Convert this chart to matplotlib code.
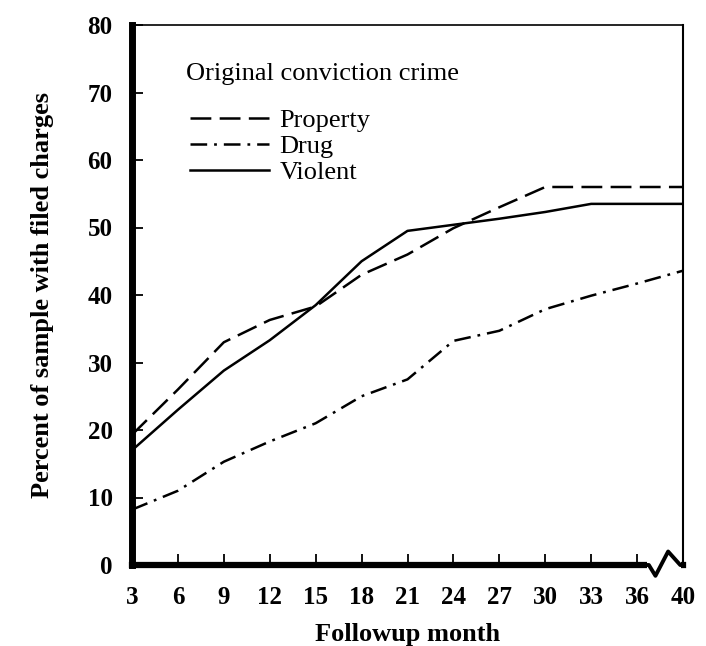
import numpy as np
import matplotlib
matplotlib.use("Agg")
import matplotlib.pyplot as plt

plt.rcParams['font.family'] = ['Liberation Serif', 'DejaVu Serif']
plt.rcParams['lines.scale_dashes'] = False

# followup months (40 sits after an axis break, one step past 36)
months = [3, 6, 9, 12, 15, 18, 21, 24, 27, 30, 33, 36, 40]
property_pct = [19.3, 26.0, 33.0, 36.3, 38.3, 43.0, 46.0, 49.9, 53.0, 56.0, 56.0, 56.0, 56.0]
drug_pct = [8.2, 11.0, 15.3, 18.3, 21.0, 25.0, 27.5, 33.2, 34.7, 37.9, 39.9, 41.7, 43.6]
violent_pct = [17.0, 23.0, 28.8, 33.3, 38.5, 45.0, 49.5, 50.4, 51.3, 52.3, 53.5, 53.5, 53.5]
yticks = [0, 10, 20, 30, 40, 50, 60, 70, 80]

pos = np.arange(len(months))

fig = plt.figure(figsize=(7.06, 6.46), dpi=100)
ax = fig.add_axes([132/706, 81/646, 551/706, 540/646])

ax.plot(pos, property_pct, color='black', lw=1.8, dashes=(15, 6), label='Property')
ax.plot(pos, drug_pct, color='black', lw=1.8, dashes=(12, 5, 2, 5), label='Drug')
ax.plot(pos, violent_pct, color='black', lw=1.8, label='Violent')

ax.set_xlim(0, len(months) - 1)
ax.set_ylim(0, 80)
ax.set_xticks(pos)
ax.set_xticklabels([str(m) for m in months], fontsize=18, fontweight='bold')
ax.set_yticks(yticks)
ax.set_yticklabels([str(v) for v in yticks], fontsize=18, fontweight='bold')
ax.tick_params(axis='x', direction='in', length=8, width=1.3, pad=15)
ax.tick_params(axis='y', direction='in', length=8, width=1.3, pad=14)

ax.spines['left'].set_linewidth(5)
ax.spines['bottom'].set_linewidth(4.5)
ax.spines['top'].set_linewidth(1.2)
ax.spines['right'].set_linewidth(1.5)

ax.set_xlabel('Followup month', fontsize=19, fontweight='bold', labelpad=10)
ax.set_ylabel('Percent of sample with filed charges', fontsize=19,
              fontweight='bold', labelpad=24)

# axis break between 36 and 40
ax.plot([0.935, 0.997], [0, 0], color='white', lw=7, transform=ax.transAxes,
        clip_on=False, solid_capstyle='butt', zorder=5)
ax.plot([0.93, 0.938, 0.950, 0.973, 0.995, 1.0], [0, 0, -0.02, 0.025, 0, 0],
        color='black', lw=2.8, transform=ax.transAxes, clip_on=False, zorder=6)

ax.text(0.098, 0.909, 'Original conviction crime', transform=ax.transAxes,
        fontsize=19, va='center', ha='left')
ax.legend(loc='upper left', bbox_to_anchor=(0.105, 0.845), frameon=False,
          fontsize=19, handlelength=3.0, handletextpad=0.4, labelspacing=0.1,
          borderpad=0, borderaxespad=0)

fig.savefig('out.png', dpi=100)
